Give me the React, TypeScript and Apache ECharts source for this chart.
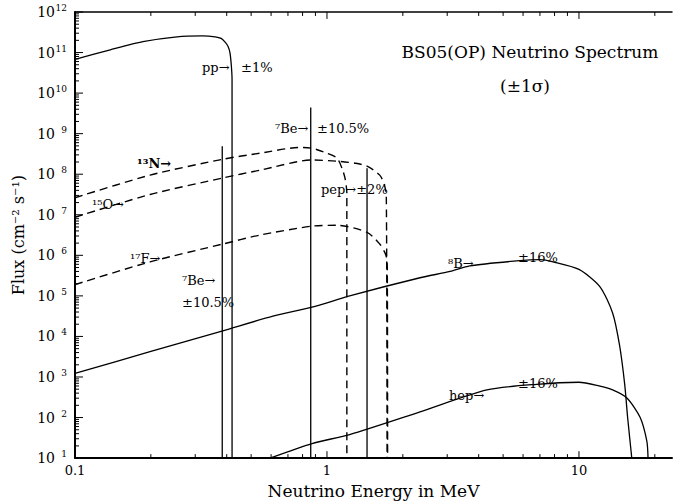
import React, { useEffect, useRef } from "react";
import * as echarts from "echarts";

const FONT = '"DejaVu Serif", "Liberation Serif", serif';

// Axis ranges
const X_MIN = 0.1;
const X_MAX = 23.4;
const Y_MIN = 10;
const Y_MAX = 1e12;

// Tick values and labels
const xMajorTicks = [0.1, 1, 10];
const xTickLabels = ["0.1", "1", "10"];
const xMinorTicks = [0.2, 0.3, 0.4, 0.5, 0.6, 0.7, 0.8, 0.9, 2, 3, 4, 5, 6, 7, 8, 9, 20];
const yMajorTicks = [1e1, 1e2, 1e3, 1e4, 1e5, 1e6, 1e7, 1e8, 1e9, 1e10, 1e11, 1e12];
const yExponents = [1, 2, 3, 4, 5, 6, 7, 8, 9, 10, 11, 12];
const yMinorMultipliers = [2, 3, 4, 5, 6, 7, 8, 9];

// pp continuum
const ppEnergy = [0.1, 0.138, 0.186, 0.254, 0.32, 0.36, 0.38, 0.395, 0.405, 0.412, 0.417, 0.42, 0.4201];
const ppFlux = [6.8e10, 1.17e11, 1.86e11, 2.45e11, 2.57e11, 2.45e11, 2.24e11, 1.78e11, 1.41e11, 1.0e11, 5.0e10, 2.2e10, 10];

// 13N (dashed)
const n13Energy = [0.1, 0.1985, 0.386, 0.542, 0.78, 0.872, 1.0, 1.096, 1.15, 1.18, 1.199, 1.1991];
const n13Flux = [2.63e7, 9.5e7, 2.34e8, 3.3e8, 4.57e8, 4.37e8, 3.3e8, 2.5e8, 1.35e8, 7.8e7, 3.5e7, 10];

// 15O (dashed)
const o15Energy = [0.1, 0.1985, 0.386, 0.542, 0.872, 1.096, 1.3, 1.442, 1.62, 1.69, 1.72, 1.732];
const o15Flux = [8.7e6, 3.16e7, 8.1e7, 1.26e8, 2.24e8, 2.09e8, 1.86e8, 1.58e8, 9.5e7, 5.5e7, 2.6e7, 10];

// 17F (dashed)
const f17Energy = [0.1, 0.1985, 0.386, 0.542, 0.872, 1.096, 1.442, 1.62, 1.69, 1.72, 1.735, 1.74];
const f17Flux = [1.9e5, 6.9e5, 1.9e6, 3.16e6, 5.25e6, 5.5e6, 3.7e6, 1.9e6, 1.23e6, 9.1e5, 5.2e5, 10];

// 8B continuum
const b8Energy = [0.1, 0.2, 0.386, 0.61, 0.872, 1.23, 2.34, 3.08, 3.69, 5.83, 7.0, 7.89, 10, 12.1, 13.6, 14.5, 15.2, 15.6, 16.1, 16.2];
const b8Flux = [1.23e3, 4.27e3, 1.38e4, 3.16e4, 5.25e4, 1.0e5, 2.8e5, 4.0e5, 5.5e5, 7.4e5, 7.8e5, 6.9e5, 4.5e5, 1.7e5, 3.8e4, 5.9e3, 631, 100, 14.8, 10];

// hep continuum
const hepEnergy = [0.594, 0.872, 1.23, 2.34, 4.31, 6.8, 10, 12, 13.6, 15.5, 17.5, 18.6, 18.8];
const hepFlux = [10, 22.9, 38, 138, 479, 661, 741, 603, 479, 302, 100, 25.7, 10];

// Monoenergetic lines: 7Be (0.384, 0.862), pep (1.442)
const lineEnergy = [0.384, 0.862, 1.442];
const lineTop = [4.9e8, 4.4e9, 1.4e8];

const zip = (xs: number[], ys: number[]) => xs.map((x, i) => [x, ys[i]]);

const yMinorTicks: number[] = [];
yMajorTicks.slice(0, -1).forEach((d) => yMinorMultipliers.forEach((m) => yMinorTicks.push(d * m)));

const black = "#000";

// Layout of the plot area (pixels)
const CHART_W = 673;
const CHART_H = 504;
const GRID = { left: 75, right: 1, top: 12, bottom: 40 };
const PX_PER_DEC_X = (CHART_W - GRID.left - GRID.right) / Math.log10(X_MAX / X_MIN);
const PX_PER_DEC_Y = (CHART_H - GRID.top - GRID.bottom) / Math.log10(Y_MAX / Y_MIN);
const fx = (px: number) => Math.pow(10, px / PX_PER_DEC_X);
const fy = (px: number) => Math.pow(10, px / PX_PER_DEC_Y);

// Tick marks as short segments (separated by gaps) drawn through the log axes
const xTickSegments = (vals: number[], len: number) => {
  const out: any[] = [];
  vals.forEach((v) => {
    out.push([v, Y_MIN], [v, Y_MIN * fy(len)], [v, "-"]);
    out.push([v, Y_MAX], [v, Y_MAX / fy(len)], [v, "-"]);
  });
  return out;
};
const yTickSegments = (vals: number[], len: number) => {
  const out: any[] = [];
  vals.forEach((v) => {
    out.push([X_MIN, v], [X_MIN * fx(len), v], ["-", v]);
  });
  return out;
};

function buildOption() {
  const solid = (name: string, data: any[]) => ({
    name,
    type: "line",
    data,
    showSymbol: false,
    symbol: "none",
    smooth: 0.25,
    lineStyle: { color: black, width: 1.3, type: "solid" },
    silent: true,
  });
  const dashed = (name: string, data: any[]) => ({
    ...solid(name, data),
    lineStyle: { color: black, width: 1.4, type: [8, 5] },
  });
  const ticks = (name: string, data: any[]) => ({
    name,
    type: "line",
    data,
    showSymbol: false,
    symbol: "none",
    connectNulls: false,
    smooth: false,
    clip: false,
    silent: true,
    lineStyle: { color: black, width: 1 },
  });

  const lineSeries = lineEnergy.map((e, i) => ({
    name: "line" + i,
    type: "line",
    data: [
      [e, Y_MIN],
      [e, lineTop[i]],
    ],
    showSymbol: false,
    symbol: "none",
    lineStyle: { color: black, width: 1.3 },
    silent: true,
  }));

  const text = (t: string, x: number, y: number, size = 13, extra: any = {}) => ({
    type: "text",
    x,
    y,
    silent: true,
    style: {
      text: t,
      fill: black,
      font: `${extra.fontWeight || "normal"} ${size}px ${FONT}`,
      fontSize: size,
      fontFamily: FONT,
      fontWeight: extra.fontWeight || "normal",
      textAlign: extra.align || "left",
      align: extra.align || "left",
      textVerticalAlign: "middle",
      verticalAlign: "middle",
    },
  });

  return {
    animation: false,
    backgroundColor: "#fff",
    grid: GRID,
    xAxis: [
      {
        type: "log",
        logBase: 10,
        min: X_MIN,
        max: X_MAX,
        position: "bottom",
        splitLine: { show: false },
        name: "Neutrino Energy in MeV",
        nameLocation: "middle",
        nameGap: 19,
        nameTextStyle: { color: black, fontFamily: FONT, fontSize: 17 },
        axisLine: { show: true, onZero: false, lineStyle: { color: black, width: 2 } },
        axisTick: { show: false },
        axisLabel: {
          show: true,
          customValues: xMajorTicks,
          margin: 6,
          color: black,
          fontFamily: FONT,
          fontSize: 13,
          formatter: (v: number) => {
            const i = xMajorTicks.findIndex((t) => Math.abs(Math.log10(t) - Math.log10(v)) < 1e-6);
            return i >= 0 ? xTickLabels[i] : "";
          },
        },
      },
      {
        type: "log",
        logBase: 10,
        min: X_MIN,
        max: X_MAX,
        position: "top",
        splitLine: { show: false },
        axisLine: { show: true, onZero: false, lineStyle: { color: black, width: 1.5 } },
        axisTick: { show: false },
        axisLabel: { show: false },
      },
    ],
    yAxis: [
      {
        type: "log",
        logBase: 10,
        min: Y_MIN,
        max: Y_MAX,
        position: "left",
        splitLine: { show: false },
        name: "Flux (cm⁻² s⁻¹)",
        nameLocation: "middle",
        nameGap: 42,
        nameTextStyle: { color: black, fontFamily: FONT, fontSize: 16 },
        axisLine: { show: true, onZero: false, lineStyle: { color: black, width: 2 } },
        axisTick: { show: false },
        axisLabel: {
          show: true,
          customValues: yMajorTicks,
          margin: 8,
          color: black,
          fontFamily: FONT,
          fontSize: 14,
          formatter: (v: number) => {
            const i = yMajorTicks.findIndex((t) => Math.abs(Math.log10(t) - Math.log10(v)) < 1e-6);
            return i >= 0 ? `{b|10}{s|${yExponents[i]}}` : "";
          },
          rich: {
            b: { fontFamily: FONT, fontSize: 14, color: black, lineHeight: 17 },
            s: { fontFamily: FONT, fontSize: 9, color: black, verticalAlign: "top", lineHeight: 10, width: 12, align: "right" },
          },
        },
      },
    ],
    series: [
      solid("pp", zip(ppEnergy, ppFlux)),
      dashed("13N", zip(n13Energy, n13Flux)),
      dashed("15O", zip(o15Energy, o15Flux)),
      dashed("17F", zip(f17Energy, f17Flux)),
      solid("8B", zip(b8Energy, b8Flux)),
      solid("hep", zip(hepEnergy, hepFlux)),
      ...lineSeries,
      ticks("xMajorTicks", xTickSegments(xMajorTicks, 7)),
      ticks("xMinorTicks", xTickSegments(xMinorTicks, 4)),
      ticks("yMajorTicks", yTickSegments(yMajorTicks, 8)),
      ticks("yMinorTicks", yTickSegments(yMinorTicks, 4)),
    ],
    graphic: [
      text("BS05(OP) Neutrino Spectrum", 530, 52, 17, { align: "center" }),
      text("(±1σ)", 525, 86, 17, { align: "center" }),
      text("pp→", 202, 67),
      text("±1%", 241, 67),
      text("⁷Be→", 275, 128),
      text("±10.5%", 317, 128),
      text("¹³N→", 137, 163, 13, { fontWeight: "bold" }),
      text("¹⁵O→", 92, 204),
      text("¹⁷F→", 130, 258),
      text("⁷Be→", 182, 280),
      text("±10.5%", 182, 302),
      text("pep→±2%", 321, 189),
      text("⁸B→", 448, 263),
      text("±16%", 518, 257),
      text("hep→", 449, 395),
      text("±16%", 518, 383),
    ],
  };
}

export default function App() {
  const ref = useRef<HTMLDivElement>(null);
  useEffect(() => {
    if (!ref.current) return;
    const chart = echarts.init(ref.current, null, { renderer: "svg" });
    chart.setOption(buildOption() as any);
    return () => chart.dispose();
  }, []);
  return (
    <div
      ref={ref}
      style={{ position: "fixed", left: 0, top: 0, width: CHART_W, height: CHART_H, background: "#fff" }}
    />
  );
}
